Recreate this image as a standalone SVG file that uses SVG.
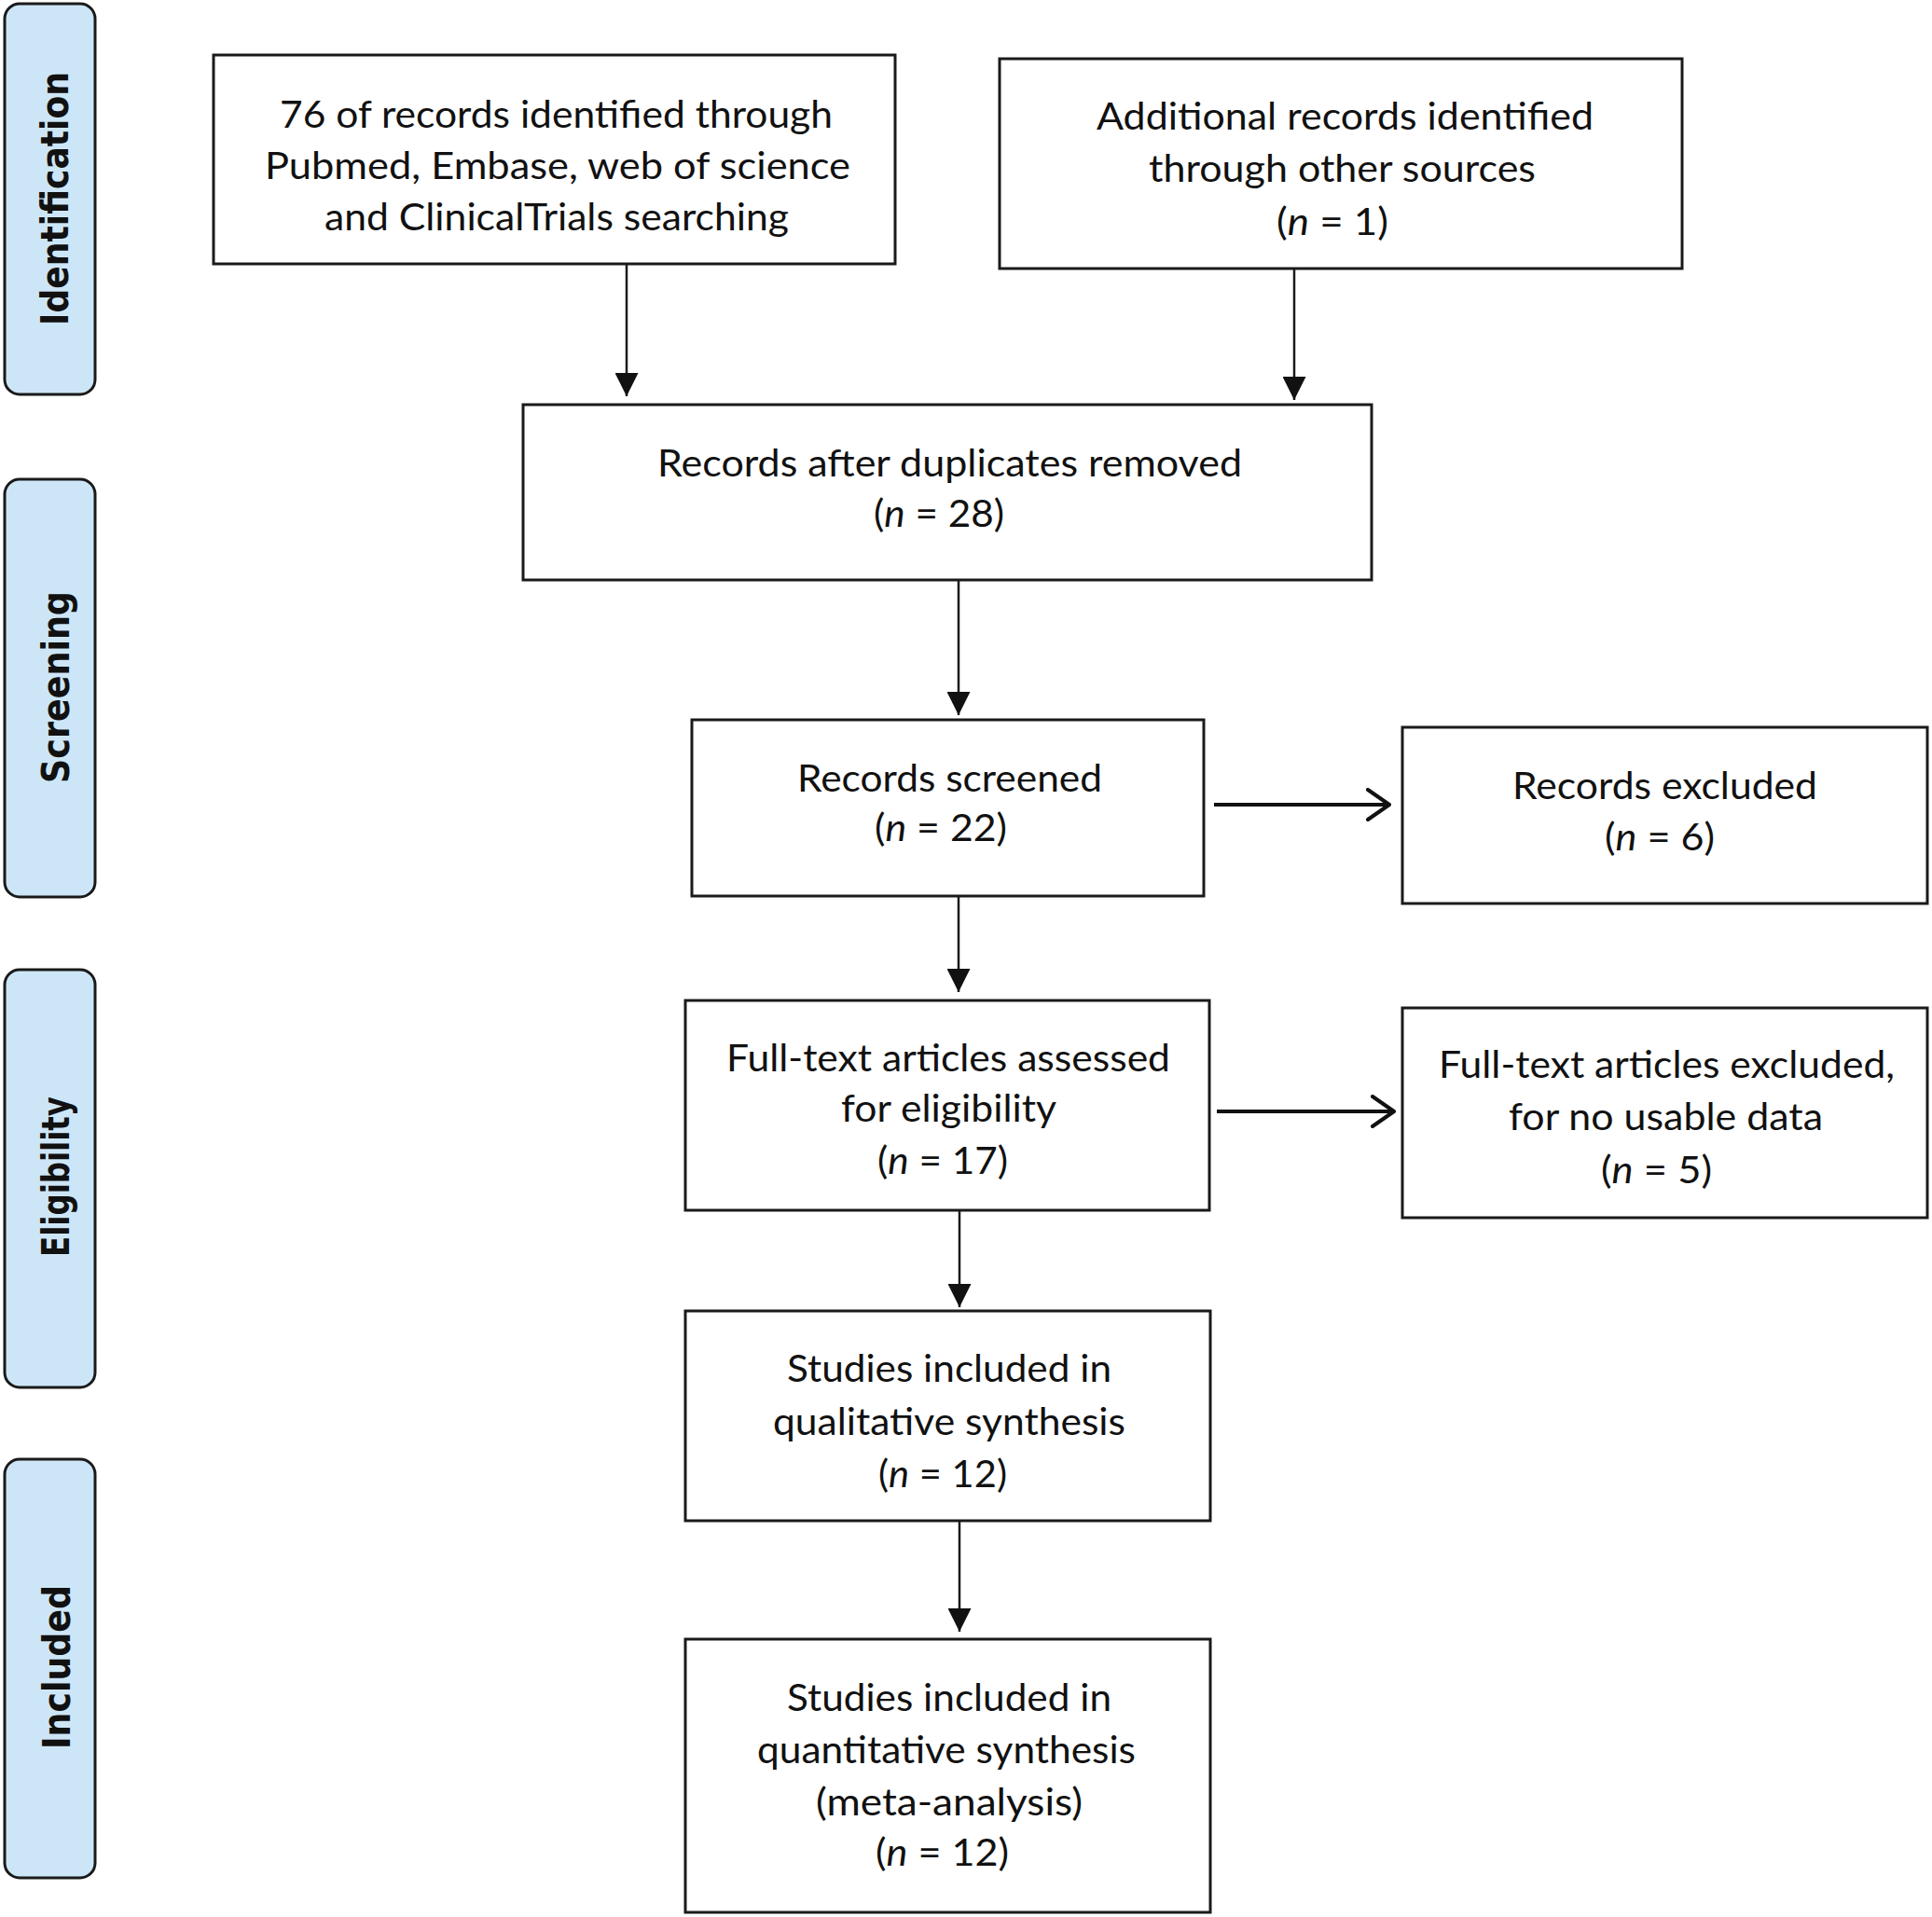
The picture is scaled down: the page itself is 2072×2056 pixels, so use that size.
<svg xmlns="http://www.w3.org/2000/svg" width="2072" height="2056" viewBox="0 0 2072 2056">
<style>
  .bg { fill: #ffffff; }
  .tab { fill: #cde6f7; stroke: #1a1a1a; stroke-width: 3; }
  .tl { font-family: "DejaVu Sans", "Liberation Sans", sans-serif; font-weight: bold; font-size: 40px; fill: #111; }
  .box { fill: #ffffff; stroke: #1a1a1a; stroke-width: 3; }
  .t { font-family: Lato, "Liberation Sans", sans-serif; font-size: 40px; fill: #111; }
  .v { stroke: #1a1a1a; stroke-width: 2.5; fill: none; }
  .h { stroke: #111; stroke-width: 4; fill: none; }
</style>
<defs>
  <marker id="ah" viewBox="0 0 25 25" refX="25" refY="12.5" markerWidth="25" markerHeight="25" markerUnits="userSpaceOnUse" orient="auto">
    <path d="M0,0 L25,12.5 L0,25 z" fill="#111"/>
  </marker>
  <marker id="ao" viewBox="0 0 29 36" refX="25" refY="18" markerWidth="29" markerHeight="36" markerUnits="userSpaceOnUse" orient="auto">
    <path d="M2,2 L25,18 L2,34" fill="none" stroke="#111" stroke-width="4" stroke-linecap="round" stroke-linejoin="round"/>
  </marker>
</defs>
<rect class="bg" x="0" y="0" width="2072" height="2056"/>

<g id="tab-identification">
  <rect class="tab" x="5" y="4" width="97" height="419" rx="16"/>
  <text class="tl" transform="translate(73,213) rotate(-90)" text-anchor="middle" textLength="272" lengthAdjust="spacingAndGlyphs">Identification</text>
</g>
<g id="tab-screening">
  <rect class="tab" x="5" y="514" width="97" height="448" rx="16"/>
  <text class="tl" transform="translate(74,737) rotate(-90)" text-anchor="middle" textLength="206" lengthAdjust="spacingAndGlyphs">Screening</text>
</g>
<g id="tab-eligibility">
  <rect class="tab" x="5" y="1040" width="97" height="448" rx="16"/>
  <text class="tl" transform="translate(74,1262) rotate(-90)" text-anchor="middle" textLength="172" lengthAdjust="spacingAndGlyphs">Eligibility</text>
</g>
<g id="tab-included">
  <rect class="tab" x="5" y="1565" width="97" height="449" rx="16"/>
  <text class="tl" transform="translate(75,1788) rotate(-90)" text-anchor="middle" textLength="176" lengthAdjust="spacingAndGlyphs">Included</text>
</g>

<g id="connectors">
  <line class="v" x1="672" y1="283" x2="672" y2="425" marker-end="url(#ah)"/>
  <line class="v" x1="1388" y1="289" x2="1388" y2="429" marker-end="url(#ah)"/>
  <line class="v" x1="1028" y1="622" x2="1028" y2="767" marker-end="url(#ah)"/>
  <line class="v" x1="1028" y1="961" x2="1028" y2="1064" marker-end="url(#ah)"/>
  <line class="v" x1="1029" y1="1298" x2="1029" y2="1402" marker-end="url(#ah)"/>
  <line class="v" x1="1029" y1="1631" x2="1029" y2="1750" marker-end="url(#ah)"/>
  <line class="h" x1="1302" y1="863" x2="1490" y2="863" marker-end="url(#ao)"/>
  <line class="h" x1="1305" y1="1192" x2="1495" y2="1192" marker-end="url(#ao)"/>
</g>

<g id="node-identified">
  <rect class="box" x="229" y="59" width="731" height="224"/>
  <text class="t" x="300" y="136.5" textLength="593" lengthAdjust="spacingAndGlyphs">76 of records identified through</text>
  <text class="t" x="284" y="191.5" textLength="628" lengthAdjust="spacingAndGlyphs">Pubmed,  Embase, web of science</text>
  <text class="t" x="348" y="246.5" textLength="498" lengthAdjust="spacingAndGlyphs">and ClinicalTrials searching</text>
</g>
<g id="node-additional">
  <rect class="box" x="1072" y="63" width="732" height="225"/>
  <text class="t" x="1176" y="139" textLength="533" lengthAdjust="spacingAndGlyphs">Additional records identified</text>
  <text class="t" x="1232" y="195" textLength="415" lengthAdjust="spacingAndGlyphs">through other sources</text>
  <text class="t" x="1369" y="252" textLength="120" lengthAdjust="spacingAndGlyphs">(<tspan font-style="italic">n</tspan> = 1)</text>
</g>
<g id="node-duplicates">
  <rect class="box" x="561" y="434" width="910" height="188"/>
  <text class="t" x="705" y="511" textLength="627" lengthAdjust="spacingAndGlyphs">Records after duplicates removed</text>
  <text class="t" x="937" y="565" textLength="140" lengthAdjust="spacingAndGlyphs">(<tspan font-style="italic">n</tspan> = 28)</text>
</g>
<g id="node-screened">
  <rect class="box" x="742" y="772" width="549" height="189"/>
  <text class="t" x="855" y="849" textLength="327" lengthAdjust="spacingAndGlyphs">Records screened</text>
  <text class="t" x="938" y="902" textLength="142" lengthAdjust="spacingAndGlyphs">(<tspan font-style="italic">n</tspan> = 22)</text>
</g>
<g id="node-excluded">
  <rect class="box" x="1504" y="780" width="563" height="189"/>
  <text class="t" x="1622" y="857" textLength="327" lengthAdjust="spacingAndGlyphs">Records excluded</text>
  <text class="t" x="1721" y="912" textLength="118" lengthAdjust="spacingAndGlyphs">(<tspan font-style="italic">n</tspan> = 6)</text>
</g>
<g id="node-fulltext">
  <rect class="box" x="735" y="1073" width="562" height="225"/>
  <text class="t" x="779" y="1149" textLength="476" lengthAdjust="spacingAndGlyphs">Full-text articles assessed</text>
  <text class="t" x="902" y="1203" textLength="231" lengthAdjust="spacingAndGlyphs">for eligibility</text>
  <text class="t" x="941" y="1259" textLength="140" lengthAdjust="spacingAndGlyphs">(<tspan font-style="italic">n</tspan> = 17)</text>
</g>
<g id="node-fulltext-excluded">
  <rect class="box" x="1504" y="1081" width="563" height="225"/>
  <text class="t" x="1543" y="1156" textLength="489" lengthAdjust="spacingAndGlyphs">Full-text articles excluded,</text>
  <text class="t" x="1618" y="1212" textLength="337" lengthAdjust="spacingAndGlyphs">for no usable data</text>
  <text class="t" x="1717" y="1269" textLength="119" lengthAdjust="spacingAndGlyphs">(<tspan font-style="italic">n</tspan> = 5)</text>
</g>
<g id="node-qualitative">
  <rect class="box" x="735" y="1406" width="563" height="225"/>
  <text class="t" x="844" y="1481.5" textLength="348" lengthAdjust="spacingAndGlyphs">Studies included in</text>
  <text class="t" x="829" y="1538.5" textLength="378" lengthAdjust="spacingAndGlyphs">qualitative synthesis</text>
  <text class="t" x="942" y="1595" textLength="138" lengthAdjust="spacingAndGlyphs">(<tspan font-style="italic">n</tspan> = 12)</text>
</g>
<g id="node-quantitative">
  <rect class="box" x="735" y="1758" width="563" height="293"/>
  <text class="t" x="844" y="1835" textLength="348" lengthAdjust="spacingAndGlyphs">Studies included in</text>
  <text class="t" x="812" y="1891" textLength="406" lengthAdjust="spacingAndGlyphs">quantitative synthesis</text>
  <text class="t" x="875" y="1947" textLength="286" lengthAdjust="spacingAndGlyphs">(meta-analysis)</text>
  <text class="t" x="939" y="2001" textLength="143" lengthAdjust="spacingAndGlyphs">(<tspan font-style="italic">n</tspan> = 12)</text>
</g>
</svg>
